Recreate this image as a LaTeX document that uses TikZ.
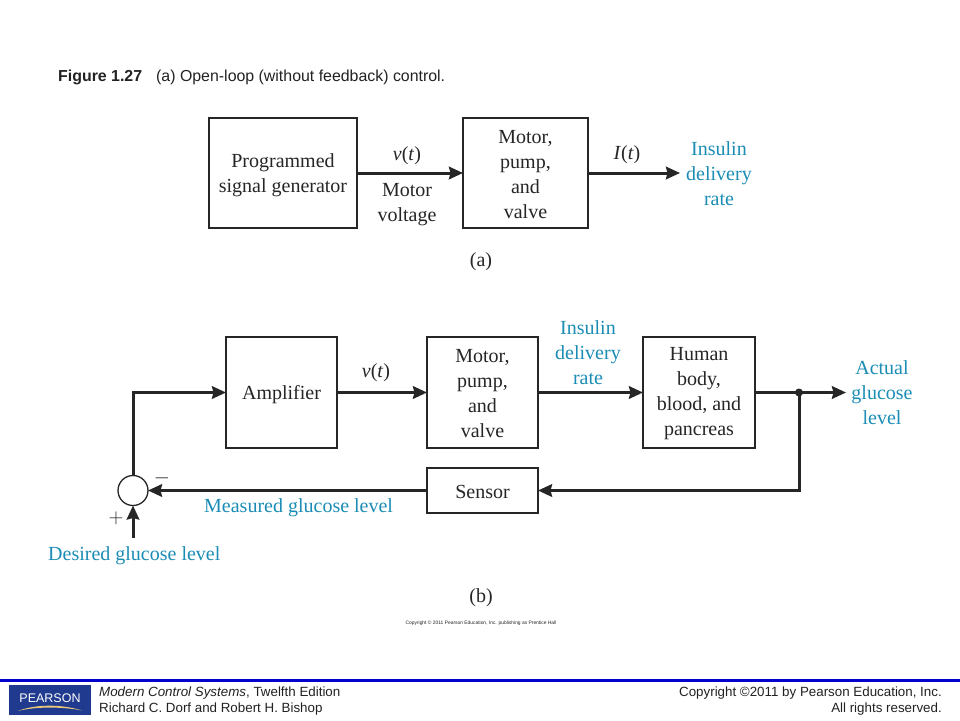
\documentclass[tikz,border=0pt]{standalone}
\usepackage{fontspec}
\setmainfont{Liberation Serif}
\newfontfamily\arialf{Liberation Sans}
\usetikzlibrary{arrows.meta,calc}
\definecolor{tealtxt}{HTML}{1B8DB5}
\definecolor{rulebl}{HTML}{0000CC}
\definecolor{logobl}{HTML}{1F3A8F}
\definecolor{logogold}{HTML}{E8C877}
\definecolor{figtxt}{HTML}{222222}
\newcommand\tstrut[1]{\rule{0pt}{#1pt}}
\tikzset{
  blk/.style={draw=black!85,line width=1.8pt,outer sep=0pt,align=center,inner sep=0pt,font=\fontsize{20}{25}\selectfont,text=black!85},
  lab/.style={align=center,inner sep=0pt,font=\fontsize{20}{25}\selectfont,text=black!85},
  tlab/.style={lab,text=tealtxt},
  conn/.style={line width=3pt,draw=black!85,-{Stealth[length=14pt,width=12.5pt,inset=1.5pt]}},
  ftxt/.style={inner sep=0pt,anchor=base west,font=\arialf\fontsize{15.9}{18}\selectfont,text=figtxt},
  fsm/.style={ftxt,font=\arialf\fontsize{13.35}{15}\selectfont},
}
\begin{document}
\begin{tikzpicture}[x=1pt,y=-1pt]
\useasboundingbox (0,0) rectangle (960,720);
\fill[white] (0,0) rectangle (960,720);
% title
\node[ftxt] (title) at (58,81) {\textbf{Figure 1.27}};
\node[ftxt] (titleb) at (156,81) {(a) Open-loop (without feedback) control.};
% part a
\node[blk,minimum width=148pt,minimum height=110pt] (gen) at (283,173) {\tstrut{19}Programmed\\signal generator};
\node[blk,minimum width=125pt,minimum height=110pt] (mot) at (525.5,173) {\tstrut{15.5}Motor,\\pump,\\and\\valve};
\coordinate (aout) at (680,173);
\draw[conn] (gen.east) -- (mot.west);
\draw[conn] (mot.east) -- (aout);
\node[lab] (vta) at (407,155.5) {\textit{v}(\textit{t})};
\node[lab] (mv) at (407,205) {Motor\\voltage};
\node[lab] (ita) at (627,155) {\textit{I}(\textit{t})};
\node[tlab] (ins) at (719,173.5) {Insulin\\delivery\\rate};
\node[lab] (capa) at (481,262) {(a)};
% part b
\node[blk,minimum width=111pt,minimum height=111pt] (amp) at (281.5,392.5) {\tstrut{18.5}Amplifier};
\node[blk,minimum width=111pt,minimum height=111pt] (motb) at (482.5,392.5) {\tstrut{14.5}Motor,\\pump,\\and\\valve};
\node[blk,minimum width=112pt,minimum height=111pt] (hum) at (699,392.5) {\tstrut{15.5}Human\\body,\\blood, and\\pancreas};
\node[blk,minimum width=111pt,minimum height=45pt] (sen) at (482.5,490.5) {\tstrut{15.5}Sensor};
\node[draw=black!85,line width=1.3pt,circle,minimum size=30pt,inner sep=0pt,outer sep=0pt] (sum) at (133,490.5) {};
\coordinate (bcorner) at (133,392.5);
\coordinate (bout) at (846,392.5);
\coordinate (bdes) at (133,538);
\coordinate (jn) at (799,392.5);
\fill[black!85] (jn) circle (4pt);
\draw[conn] (sum.north) -- (bcorner) -- (amp.west);
\draw[conn] (amp.east) -- (motb.west);
\draw[conn] (motb.east) -- (hum.west);
\draw[conn] (hum.east) -- (bout);
\draw[conn] (jn) |- (sen.east);
\draw[conn] (sen.west) -- (sum.east);
\draw[conn] (bdes) -- (sum.south);
\node[lab] (vtb) at (376,373) {\textit{v}(\textit{t})};
\node[tlab] (insb) at (588,352.5) {Insulin\\delivery\\rate};
\node[tlab] (act) at (882,393) {Actual\\glucose\\level};
\node[tlab,anchor=west] (meas) at (204,508) {Measured glucose level};
\node[tlab,anchor=west] (des) at (48,556) {Desired glucose level};
\node[lab] (minus) at (162,478) {$-$};
\node[lab] (plus) at (116,518) {$+$};
\node[lab] (capb) at (481,598) {(b)};
\node[inner sep=0pt,font=\arialf\fontsize{4.9}{6}\selectfont,text=black!85] (cpr) at (481,623) {Copyright © 2011 Pearson Education, Inc. publishing as Prentice Hall};
% footer
\fill[rulebl] (0,679) rectangle (960,682);
\fill[logobl] (9,685) rectangle (91,715);
\node[inner sep=0pt,font=\arialf\fontsize{12.5}{14}\selectfont,text=white] (pe) at (50,698) {PEARSON};
\fill[logogold] (18,711) .. controls (35,704) and (62,704) .. (82,710.5) .. controls (62,706.5) and (35,706.5) .. (18,711) -- cycle;
\node[fsm] (f1) at (99,696) {\textit{Modern Control Systems}, Twelfth Edition};
\node[fsm] (f2) at (99,712) {Richard C. Dorf and Robert H. Bishop};
\node[fsm,anchor=base east] (f3) at (942,696) {Copyright ©2011 by Pearson Education, Inc.};
\node[fsm,anchor=base east] (f4) at (942,712) {All rights reserved.};
\end{tikzpicture}
\end{document}
